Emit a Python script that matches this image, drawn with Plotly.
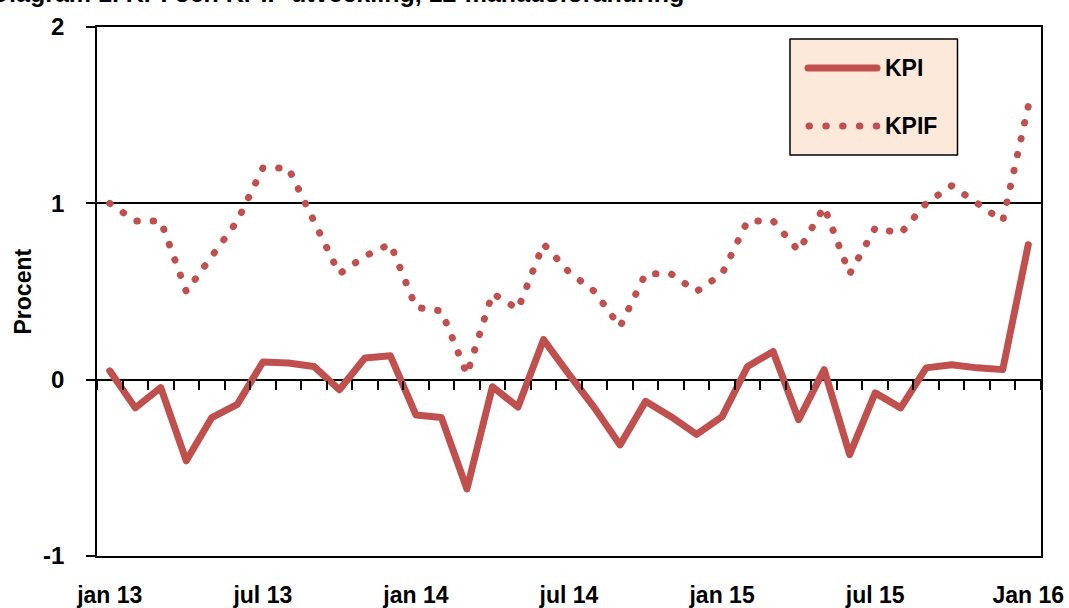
import plotly.graph_objects as go

months = ["jan 13","feb 13","mar 13","apr 13","maj 13","jun 13","jul 13","aug 13","sep 13","okt 13","nov 13","dec 13",
          "jan 14","feb 14","mar 14","apr 14","maj 14","jun 14","jul 14","aug 14","sep 14","okt 14","nov 14","dec 14",
          "jan 15","feb 15","mar 15","apr 15","maj 15","jun 15","jul 15","aug 15","sep 15","okt 15","nov 15","dec 15",
          "Jan 16"]
kpi = [0.05, -0.16, -0.045, -0.46, -0.215, -0.14, 0.10, 0.095, 0.075, -0.057, 0.123, 0.135,
       -0.20, -0.215, -0.62, -0.04, -0.155, 0.227, 0.03, -0.16, -0.37, -0.123, -0.21, -0.31,
       -0.21, 0.075, 0.16, -0.227, 0.057, -0.425, -0.075, -0.16, 0.067, 0.085, 0.067, 0.057, 0.765]
kpif = [1.00, 0.90, 0.90, 0.50, 0.70, 0.90, 1.20, 1.20, 0.90, 0.60, 0.70, 0.77,
        0.41, 0.39, 0.03, 0.49, 0.40, 0.77, 0.61, 0.50, 0.30, 0.60, 0.60, 0.50,
        0.60, 0.90, 0.90, 0.73, 0.98, 0.60, 0.86, 0.83, 1.00, 1.10, 1.00, 0.90, 1.55]
tick_labels = ["jan 13", "jul 13", "jan 14", "jul 14", "jan 15", "jul 15", "Jan 16"]
tick_months = ["jan 13", "jul 13", "jan 14", "jul 14", "jan 15", "jul 15", "Jan 16"]
y_ticks = [-1, 0, 1, 2]
y_tick_text = ["-1", "0", "1", "2"]

RED = "#C0504D"
FONT = "Liberation Sans, Arial, sans-serif"
FS = 23

# plot area in pixels (from the reference)
L, R, T, B = 97, 1041, 27, 556
W, H = R - L, B - T
def px(x):
    return (x - L) / W
def py(y):
    return (B - y) / H

fig = go.Figure()
fig.add_trace(go.Scatter(x=months, y=kpif, mode="lines", name="KPIF",
                         line=dict(color=RED, width=7, dash="0.5px,15.8px"),
                         xaxis="x", yaxis="y", showlegend=False))
fig.add_trace(go.Scatter(x=months, y=kpi, mode="lines", name="KPI",
                         line=dict(color=RED, width=7),
                         xaxis="x2", yaxis="y", showlegend=False))

bold = dict(family=FONT, size=FS, color="black", weight="bold")

fig.update_layout(
    width=1069, height=608,
    margin=dict(l=L, r=1069 - R, t=T, b=608 - B, autoexpand=False),
    paper_bgcolor="white", plot_bgcolor="white",
    font=dict(family=FONT, size=FS, color="black"),
    xaxis=dict(type="category", categoryorder="array", categoryarray=months,
               range=[-0.5, 36.5], tickmode="array", tickvals=tick_months, ticktext=tick_labels,
               ticks="", showgrid=False, zeroline=False, automargin=False,
               showline=True, linecolor="black", linewidth=1.5, mirror=True,
               tickfont=bold, ticklabelstandoff=18),
    xaxis2=dict(type="category", categoryorder="array", categoryarray=months,
                range=[-0.5, 36.5], overlaying="x", anchor="free", position=1/3,
                side="bottom", tickson="boundaries", ticks="outside", ticklen=9,
                tickwidth=1.5, tickcolor="black", dtick=1, automargin=False,
                showticklabels=False, showgrid=False, zeroline=False, showline=False),
    yaxis=dict(range=[-1, 2], tickmode="array", tickvals=y_ticks, ticktext=y_tick_text,
               ticks="outside", ticklen=9, tickwidth=1.5, tickcolor="black",
               showgrid=True, gridcolor="black", gridwidth=1.5, zeroline=False,
               showline=True, linecolor="black", linewidth=1.5, mirror=True,
               automargin=False, tickfont=dict(family=FONT, size=24, color="black", weight="bold"),
               ticklabelstandoff=17),
)

# Y-axis title
fig.add_annotation(text="Procent", xref="paper", yref="paper", x=px(22), y=0.5,
                   xanchor="center", yanchor="middle", textangle=-90, showarrow=False,
                   font=bold)

# Title (clipped at the top edge, as in the reference)
fig.add_annotation(text="Diagram 1. KPI och KPIF-utveckling, 12-månadsförändring",
                   xref="paper", yref="paper", x=px(686), y=py(9), xanchor="right", yanchor="bottom",
                   showarrow=False, font=dict(family=FONT, size=25, color="black", weight="bold"))

# Legend
fig.add_shape(type="rect", xref="paper", yref="paper", x0=px(790), x1=px(957.5), y0=py(155), y1=py(39),
              fillcolor="#FDE9D9", line=dict(color="black", width=1.5), layer="above")
fig.add_shape(type="line", xref="paper", yref="paper", x0=px(808), x1=px(877), y0=py(68), y1=py(68),
              line=dict(color=RED, width=7), layer="above")
fig.add_shape(type="line", xref="paper", yref="paper", x0=px(809), x1=px(877), y0=py(126), y1=py(126),
              line=dict(color=RED, width=7, dash="0.5px,16.3px"), layer="above")
fig.add_annotation(text="KPI", xref="paper", yref="paper", x=px(883), y=py(68), xanchor="left",
                   yanchor="middle", showarrow=False, font=bold)
fig.add_annotation(text="KPIF", xref="paper", yref="paper", x=px(883), y=py(126), xanchor="left",
                   yanchor="middle", showarrow=False, font=bold)

post = """
document.body.style.margin = '0';
document.body.style.overflow = 'hidden';
var gd = document.getElementById('{plot_id}');
function roundCaps(){
  gd.querySelectorAll('.scatterlayer path.js-line, .shapelayer path').forEach(function(p){
    p.style.strokeLinecap = 'round';
    p.style.strokeLinejoin = 'round';
    var da = p.style.strokeDasharray;
    if (da && da !== 'none' && p.getTotalLength) {
      var len = p.getTotalLength();
      var n = Math.max(1, Math.round(len / 16.3));
      var period = (len - 0.8) / n;
      p.style.strokeDasharray = '0.5px,' + (period - 0.5) + 'px';
    }
  });
}
roundCaps();
gd.on('plotly_afterplot', roundCaps);
"""

fig.write_html("out.html", post_script=post, config={"displayModeBar": False})
